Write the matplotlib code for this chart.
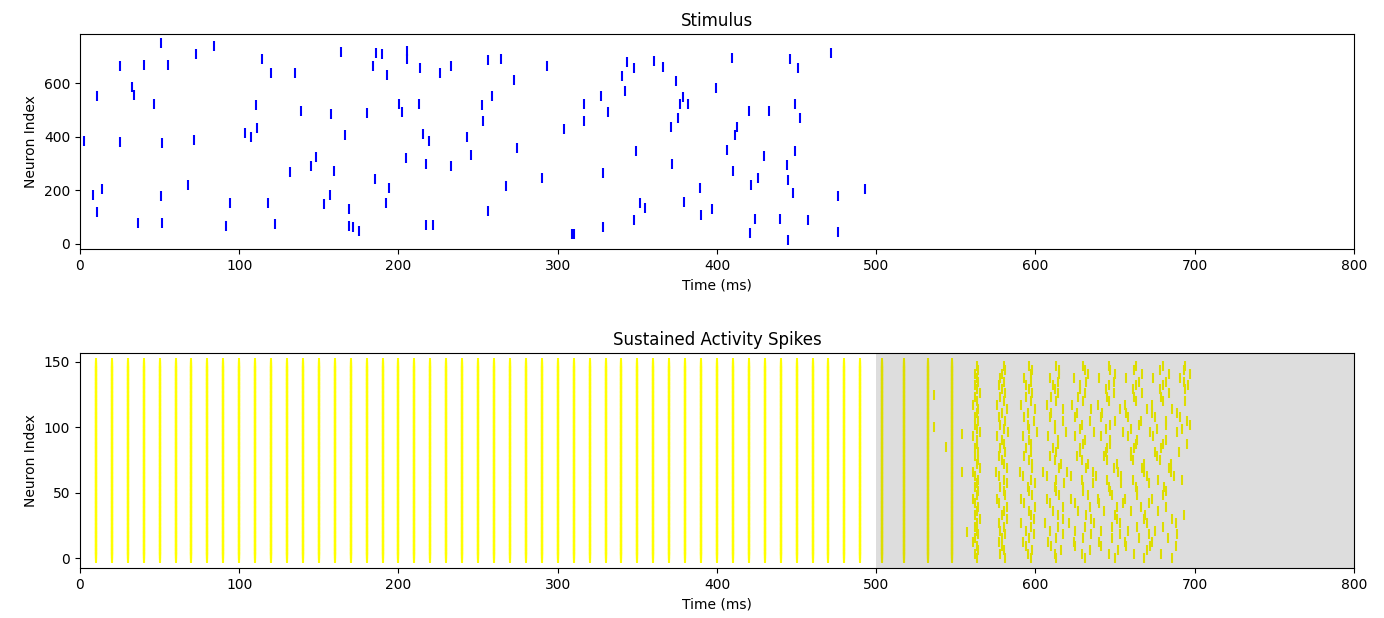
import matplotlib
matplotlib.use("Agg")
import matplotlib.pyplot as plt

# --- stimulus spikes: (time ms, neuron index) ---
stim_times = [
    2.7, 10.5, 8.0, 10.9, 13.8, 25.1, 25.1, 32.7, 34.1, 36.4, 40.2, 46.7, 50.7, 50.7,
    51.3, 51.3, 55.1, 67.8, 71.4, 73.0, 84.0, 91.7, 94.0, 103.8, 107.4, 110.3, 110.9,
    114.1, 117.8, 120.1, 122.4, 132.1, 135.0, 138.8, 144.9, 148.4, 153.0, 156.8, 157.4,
    159.7, 164.1, 166.4, 168.7, 168.7, 171.6, 175.4, 180.0, 184.2, 185.2, 185.9, 189.6,
    192.0, 192.6, 194.0, 200.1, 202.4, 204.5, 205.2, 205.2, 212.9, 213.5, 215.2, 217.3,
    217.3, 219.0, 221.9, 226.3, 233.0, 233.0, 242.8, 245.7, 252.4, 253.1, 256.2, 256.2,
    258.5, 264.4, 267.3, 272.5, 274.2, 289.9, 293.4, 303.9, 309.2, 310.0, 316.2, 316.2,
    327.4, 328.6, 328.6, 331.8, 340.5, 342.0, 343.5, 348.1, 348.1, 349.0, 351.9, 354.8,
    360.3, 366.1, 371.4, 372.0, 374.3, 375.7, 376.6, 378.8, 379.5, 382.1, 389.1, 389.9,
    396.9, 399.2, 406.5, 409.4, 410.2, 411.1, 412.6, 419.9, 420.8, 421.4, 423.7, 426.0,
    429.8, 432.7, 439.4, 444.0, 444.6, 444.6, 446.1, 447.6, 449.2, 449.2, 450.7, 452.1,
    457.3, 471.6, 476.0, 476.0, 493.1,
]
stim_neurons = [
    384, 553, 183, 120, 206, 663, 379, 584, 555, 77, 667, 522, 748, 179,
    375, 77, 667, 220, 388, 708, 739, 68, 153, 415, 400, 517, 431,
    690, 153, 636, 73, 267, 636, 495, 291, 326, 149, 184, 486,
    272, 716, 406, 130, 67, 65, 47, 489, 665, 242, 713, 708,
    153, 629, 210, 521, 491, 322, 718, 690, 521, 655, 410, 298,
    72, 384, 72, 637, 663, 292, 400, 330, 517, 460, 686, 122,
    552, 691, 215, 610, 358, 245, 665, 429, 36, 36, 521, 458,
    552, 263, 65, 491, 627, 570, 680, 658, 89, 348, 153, 135,
    681, 660, 436, 298, 606, 468, 521, 548, 157, 521, 209, 108,
    130, 580, 351, 694, 273, 406, 437, 496, 42, 220, 94, 245,
    327, 496, 94, 296, 237, 15, 691, 189, 522, 348, 658, 468,
    89, 713, 179, 46, 206,
]

# --- sustained activity ---
n_neurons = 150
# regular, fully synchronous volleys during the stimulus period
sync_times = [10, 20, 30, 40, 50, 60, 70, 80, 90, 100, 110, 120, 130, 140, 150,
              160, 170, 180, 190, 200, 210, 220, 230, 240, 250, 260, 270, 280,
              290, 300, 310, 320, 330, 340, 350, 360, 370, 380, 390, 400, 410,
              420, 430, 440, 450, 460, 470, 480, 490]
# first volleys after stimulus offset, still synchronous
post_sync_times = [503.8, 517.6, 532.7, 547.5]
# a few early stragglers
stray_times = [536, 536, 544, 554, 554, 557]
stray_neurons = [100, 125, 85, 95, 66, 20]
# desynchronising spikes afterwards: one row per sampled neuron
async_neurons = [0, 3, 6, 9, 12, 15, 18, 21, 24, 27, 30, 33, 36, 39, 42, 45, 48,
                 51, 54, 57, 60, 63, 66, 69, 72, 75, 78, 81, 84, 87, 90, 93, 96,
                 99, 102, 105, 108, 111, 114, 117, 120, 123, 126, 129, 132, 135,
                 138, 141, 144, 147]
async_times = [
    [563, 581, 597, 613, 631, 650, 668, 686],
    [562, 578, 595, 612, 629, 646, 662, 679],
    [564, 580, 598, 616, 634, 652, 670],
    [563, 579, 594, 610, 625, 641, 657, 672, 688],
    [561, 577, 592, 608, 624, 640, 656, 673],
    [562, 579, 596, 613, 630, 648, 665, 683],
    [564, 581, 599, 617, 635, 653, 671, 689],
    [563, 578, 594, 609, 625, 641, 658, 675],
    [562, 580, 597, 614, 631, 648, 664, 680],
    [563, 577, 591, 606, 621, 637, 653, 670, 688],
    [565, 582, 599, 617, 635, 651, 668, 686],
    [562, 579, 597, 614, 632, 650, 669, 693],
    [563, 580, 596, 611, 627, 643, 660, 677],
    [564, 582, 600, 617, 634, 651, 666, 682],
    [562, 577, 593, 609, 625, 640, 655, 671],
    [561, 576, 591, 607, 622, 639, 656, 673],
    [563, 581, 598, 615, 633, 648, 664, 680],
    [564, 580, 596, 613, 630, 647, 664, 682],
    [562, 578, 595, 612, 630, 646, 663, 681],
    [563, 582, 600, 618, 636, 654, 671],
    [564, 580, 597, 613, 629, 645, 661, 677, 692],
    [562, 577, 592, 607, 622, 638, 654, 670, 687],
    [561, 575, 590, 605, 620, 636, 652, 668, 685],
    [565, 582, 598, 615, 632, 649, 667, 684],
    [563, 580, 598, 616, 633, 651, 668, 685],
    [564, 579, 596, 612, 629, 645, 661, 678],
    [562, 577, 593, 609, 626, 643, 660, 676],
    [564, 581, 597, 613, 628, 644, 660, 675, 690],
    [562, 578, 594, 611, 628, 645, 662, 679],
    [563, 580, 597, 614, 630, 647, 663, 680, 695],
    [563, 579, 596, 614, 631, 647, 664, 682],
    [561, 576, 592, 608, 625, 641, 658, 674],
    [565, 583, 601, 619, 637, 655, 672, 689],
    [563, 580, 596, 612, 628, 644, 660, 676, 692],
    [562, 578, 595, 612, 629, 647, 665, 682, 697],
    [564, 581, 599, 617, 634, 650, 666, 682, 695],
    [562, 577, 593, 609, 625, 641, 658, 675, 691],
    [563, 579, 595, 610, 626, 642, 657, 673, 689],
    [564, 582, 600, 617, 635, 653, 670, 686],
    [561, 576, 591, 607, 623, 639, 656, 673],
    [563, 580, 597, 613, 630, 646, 663, 680, 694],
    [562, 578, 594, 610, 627, 645, 662, 679],
    [565, 581, 598, 614, 631, 649, 667, 684],
    [563, 579, 596, 612, 628, 644, 661, 678, 694],
    [562, 577, 594, 611, 628, 646, 663, 680, 696],
    [564, 580, 597, 614, 632, 649, 665, 682, 693],
    [563, 578, 593, 609, 624, 640, 657, 674, 691],
    [562, 579, 597, 615, 633, 650, 667, 684, 697],
    [564, 581, 598, 615, 631, 647, 662, 678, 693],
    [563, 580, 596, 613, 630, 646, 663, 680, 694],
]

fig = plt.figure(figsize=(13.84, 6.18), dpi=100)
ax1 = fig.add_axes([0.0578, 0.597, 0.9205, 0.348])
ax2 = fig.add_axes([0.0578, 0.081, 0.9205, 0.348])

ax1.plot(stim_times, stim_neurons, '|', color='blue', markersize=7, mew=1.5)
ax1.set_xlim(0, 800)
ax1.set_ylim(-19, 783)
ax1.set_title("Stimulus")
ax1.set_xlabel("Time (ms)")
ax1.set_ylabel("Neuron Index")

# build flat spike lists for the sustained panel
t_all, n_all = [], []
for t in sync_times + post_sync_times:
    t_all += [t] * n_neurons
    n_all += list(range(n_neurons))
t_all += stray_times
n_all += stray_neurons
for n, row in zip(async_neurons, async_times):
    t_all += row
    n_all += [n] * len(row)

ax2.plot(t_all, n_all, '|', color='yellow', markersize=7, mew=1.5)
ax2.axvspan(500, 800, color='black', alpha=0.135, lw=0, zorder=3)
ax2.set_xlim(0, 800)
ax2.set_ylim(-7.6, 156.9)
ax2.set_yticks([0, 50, 100, 150])
ax2.set_title("Sustained Activity Spikes")
ax2.set_xlabel("Time (ms)")
ax2.set_ylabel("Neuron Index")

fig.savefig("out.png", dpi=100)
